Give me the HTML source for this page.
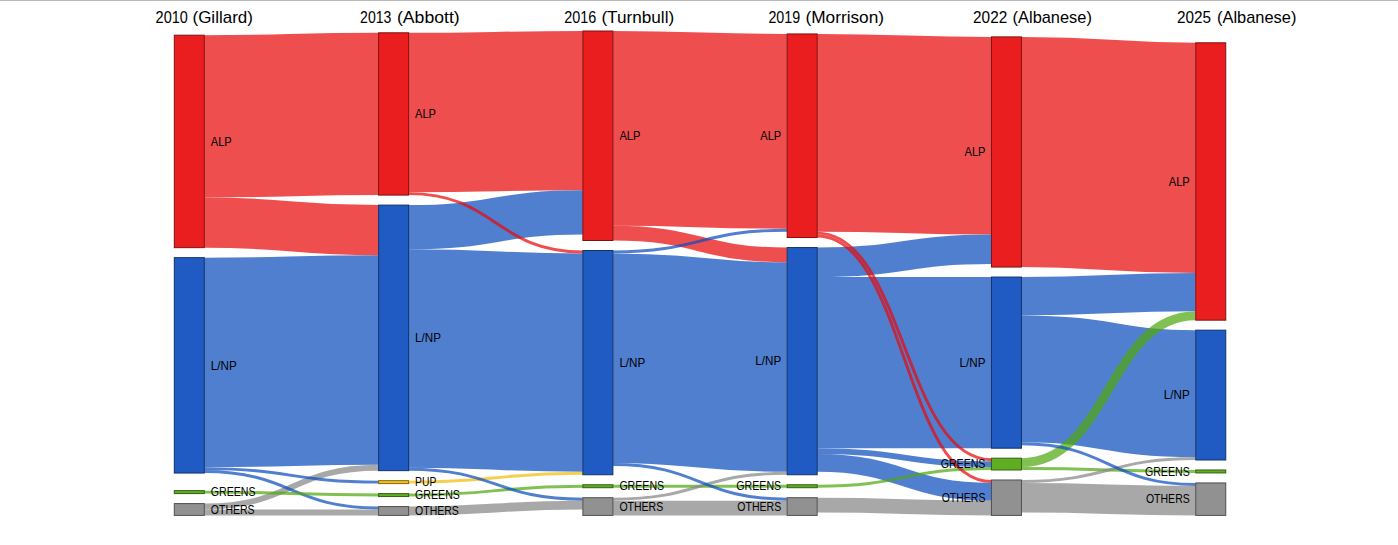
<!DOCTYPE html><html><head><meta charset="utf-8"><title>Federal election seat flows 2010-2025</title><style>
html,body{margin:0;padding:0;background:#fff;}body{width:1398px;height:545px;overflow:hidden;position:relative;}
.topline{position:absolute;left:0;top:0;width:1398px;height:1px;background:#bbbbbb;}
svg{position:absolute;left:0;top:0;display:block;}
text{font-family:"Liberation Sans",Arial,sans-serif;fill:#000;}
.t text{font-size:16.2px;} .l text{font-size:12.2px;}
</style></head><body>
<div class="topline"></div>
<svg width="1398" height="545" viewBox="0 0 1398 545">
<g fill="none" stroke-opacity="0.72">
<path d="M1021.46,151.98C1108.61,151.98,1108.61,157.88,1195.75,157.88" stroke="#e80a0a" stroke-width="230.15"/>
<path d="M408.59,358.52C495.74,358.52,495.74,362.62,582.88,362.62" stroke="#0c4dbe" stroke-width="218.35"/>
<path d="M204.3,362.39C291.45,362.39,291.45,360,378.59,360" stroke="#0c4dbe" stroke-width="209.5"/>
<path d="M612.88,358.19C700.03,358.19,700.03,367.05,787.17,367.05" stroke="#0c4dbe" stroke-width="209.5"/>
<path d="M817.17,132.8C904.32,132.8,904.32,135.75,991.46,135.75" stroke="#e80a0a" stroke-width="197.69"/>
<path d="M612.88,128.37C700.03,128.37,700.03,131.32,787.17,131.32" stroke="#e80a0a" stroke-width="194.74"/>
<path d="M817.17,362.62C904.32,362.62,904.32,362.62,991.46,362.62" stroke="#0c4dbe" stroke-width="171.14"/>
<path d="M204.3,116.34C291.45,116.34,291.45,113.95,378.59,113.95" stroke="#e80a0a" stroke-width="162.29"/>
<path d="M408.59,112.47C495.74,112.47,495.74,110.67,582.88,110.67" stroke="#e80a0a" stroke-width="159.34"/>
<path d="M1021.46,378.85C1108.61,378.85,1108.61,393.6,1195.75,393.6" stroke="#0c4dbe" stroke-width="126.88"/>
<path d="M204.3,222.57C291.45,222.57,291.45,230.17,378.59,230.17" stroke="#e80a0a" stroke-width="50.16"/>
<path d="M408.59,227.22C495.74,227.22,495.74,212.46,582.88,212.46" stroke="#0c4dbe" stroke-width="44.26"/>
<path d="M1021.46,296.23C1108.61,296.23,1108.61,292.13,1195.75,292.13" stroke="#0c4dbe" stroke-width="38.36"/>
<path d="M817.17,262.3C904.32,262.3,904.32,249.35,991.46,249.35" stroke="#0c4dbe" stroke-width="29.51"/>
<path d="M1021.46,497.7C1108.61,497.7,1108.61,500.65,1195.75,500.65" stroke="#878787" stroke-width="29.51"/>
<path d="M817.17,462.94C904.32,462.94,904.32,491.79,991.46,491.79" stroke="#0c4dbe" stroke-width="17.7"/>
<path d="M612.88,233.12C700.03,233.12,700.03,254.92,787.17,254.92" stroke="#e80a0a" stroke-width="14.75"/>
<path d="M612.88,508.02C700.03,508.02,700.03,508.02,787.17,508.02" stroke="#878787" stroke-width="14.75"/>
<path d="M817.17,505.07C904.32,505.07,904.32,508.02,991.46,508.02" stroke="#878787" stroke-width="14.75"/>
<path d="M408.59,510.97C495.74,510.97,495.74,505.07,582.88,505.07" stroke="#878787" stroke-width="8.85"/>
<path d="M1021.46,462.62C1108.61,462.62,1108.61,315.74,1195.75,315.74" stroke="#51a70f" stroke-width="8.85"/>
<path d="M204.3,506.55C291.45,506.55,291.45,467.7,378.59,467.7" stroke="#878787" stroke-width="5.9"/>
<path d="M204.3,512.45C291.45,512.45,291.45,512.45,378.59,512.45" stroke="#878787" stroke-width="5.9"/>
<path d="M817.17,451.14C904.32,451.14,904.32,464.09,991.46,464.09" stroke="#0c4dbe" stroke-width="5.9"/>
<path d="M204.3,468.62C291.45,468.62,291.45,482.12,378.59,482.12" stroke="#0c4dbe" stroke-width="2.95"/>
<path d="M408.59,193.61C495.74,193.61,495.74,251.97,582.88,251.97" stroke="#e80a0a" stroke-width="2.95"/>
<path d="M612.88,251.97C700.03,251.97,700.03,230.17,787.17,230.17" stroke="#0c4dbe" stroke-width="2.95"/>
<path d="M817.17,486.22C904.32,486.22,904.32,468.52,991.46,468.52" stroke="#51a70f" stroke-width="2.95"/>
<path d="M1021.46,468.52C1108.61,468.52,1108.61,471.47,1195.75,471.47" stroke="#51a70f" stroke-width="2.95"/>
<path d="M204.3,471.57C291.45,471.57,291.45,508.02,378.59,508.02" stroke="#0c4dbe" stroke-width="2.95"/>
<path d="M408.59,482.12C495.74,482.12,495.74,473.27,582.88,473.27" stroke="#f0be0c" stroke-width="2.95"/>
<path d="M612.88,486.22C700.03,486.22,700.03,486.22,787.17,486.22" stroke="#51a70f" stroke-width="2.95"/>
<path d="M817.17,233.12C904.32,233.12,904.32,459.66,991.46,459.66" stroke="#e80a0a" stroke-width="2.95"/>
<path d="M1021.46,481.47C1108.61,481.47,1108.61,458.52,1195.75,458.52" stroke="#878787" stroke-width="2.95"/>
<path d="M204.3,492.12C291.45,492.12,291.45,495.07,378.59,495.07" stroke="#51a70f" stroke-width="2.95"/>
<path d="M408.59,495.07C495.74,495.07,495.74,486.22,582.88,486.22" stroke="#51a70f" stroke-width="2.95"/>
<path d="M612.88,499.17C700.03,499.17,700.03,473.27,787.17,473.27" stroke="#878787" stroke-width="2.95"/>
<path d="M817.17,236.07C904.32,236.07,904.32,481.47,991.46,481.47" stroke="#e80a0a" stroke-width="2.95"/>
<path d="M1021.46,443.76C1108.61,443.76,1108.61,484.42,1195.75,484.42" stroke="#0c4dbe" stroke-width="2.95"/>
<path d="M408.59,469.17C495.74,469.17,495.74,499.17,582.88,499.17" stroke="#0c4dbe" stroke-width="2.95"/>
<path d="M612.88,464.42C700.03,464.42,700.03,499.17,787.17,499.17" stroke="#0c4dbe" stroke-width="2.95"/>
</g>
<g>
<rect x="174.3" y="35.2" width="30" height="212.45" fill="#ea1e1e" stroke="#801010"/>
<rect x="174.3" y="257.65" width="30" height="215.4" fill="#1f5bc3" stroke="#11326a"/>
<rect x="174.3" y="490.65" width="30" height="2.95" fill="#5fae22" stroke="#345f13"/>
<rect x="174.3" y="503.6" width="30" height="11.8" fill="#919191" stroke="#4f4f4f"/>
<rect x="378.59" y="32.8" width="30" height="162.29" fill="#ea1e1e" stroke="#801010"/>
<rect x="378.59" y="205.09" width="30" height="265.56" fill="#1f5bc3" stroke="#11326a"/>
<rect x="378.59" y="480.65" width="30" height="2.95" fill="#f1c31f" stroke="#836a11"/>
<rect x="378.59" y="493.6" width="30" height="2.95" fill="#5fae22" stroke="#345f13"/>
<rect x="378.59" y="506.55" width="30" height="8.85" fill="#919191" stroke="#4f4f4f"/>
<rect x="582.88" y="31" width="30" height="209.5" fill="#ea1e1e" stroke="#801010"/>
<rect x="582.88" y="250.5" width="30" height="224.25" fill="#1f5bc3" stroke="#11326a"/>
<rect x="582.88" y="484.75" width="30" height="2.95" fill="#5fae22" stroke="#345f13"/>
<rect x="582.88" y="497.7" width="30" height="17.7" fill="#919191" stroke="#4f4f4f"/>
<rect x="787.17" y="33.95" width="30" height="203.59" fill="#ea1e1e" stroke="#801010"/>
<rect x="787.17" y="247.55" width="30" height="227.2" fill="#1f5bc3" stroke="#11326a"/>
<rect x="787.17" y="484.75" width="30" height="2.95" fill="#5fae22" stroke="#345f13"/>
<rect x="787.17" y="497.7" width="30" height="17.7" fill="#919191" stroke="#4f4f4f"/>
<rect x="991.46" y="36.9" width="30" height="230.15" fill="#ea1e1e" stroke="#801010"/>
<rect x="991.46" y="277.05" width="30" height="171.14" fill="#1f5bc3" stroke="#11326a"/>
<rect x="991.46" y="458.19" width="30" height="11.8" fill="#5fae22" stroke="#345f13"/>
<rect x="991.46" y="479.99" width="30" height="35.41" fill="#919191" stroke="#4f4f4f"/>
<rect x="1195.75" y="42.8" width="30" height="277.36" fill="#ea1e1e" stroke="#801010"/>
<rect x="1195.75" y="330.16" width="30" height="129.83" fill="#1f5bc3" stroke="#11326a"/>
<rect x="1195.75" y="469.99" width="30" height="2.95" fill="#5fae22" stroke="#345f13"/>
<rect x="1195.75" y="482.94" width="30" height="32.46" fill="#919191" stroke="#4f4f4f"/>
</g>
<g class="l">
<text x="210.8" y="146" textLength="20.9" lengthAdjust="spacingAndGlyphs">ALP</text>
<text x="210.8" y="370" textLength="25.9" lengthAdjust="spacingAndGlyphs">L/NP</text>
<text x="210.8" y="496" textLength="44.8" lengthAdjust="spacingAndGlyphs">GREENS</text>
<text x="210.8" y="514" textLength="43.8" lengthAdjust="spacingAndGlyphs">OTHERS</text>
<text x="415.09" y="118" textLength="20.9" lengthAdjust="spacingAndGlyphs">ALP</text>
<text x="415.09" y="342" textLength="25.9" lengthAdjust="spacingAndGlyphs">L/NP</text>
<text x="415.09" y="486" textLength="21.2" lengthAdjust="spacingAndGlyphs">PUP</text>
<text x="415.09" y="499" textLength="44.8" lengthAdjust="spacingAndGlyphs">GREENS</text>
<text x="415.09" y="515" textLength="43.8" lengthAdjust="spacingAndGlyphs">OTHERS</text>
<text x="619.38" y="140" textLength="20.9" lengthAdjust="spacingAndGlyphs">ALP</text>
<text x="619.38" y="367" textLength="25.9" lengthAdjust="spacingAndGlyphs">L/NP</text>
<text x="619.38" y="490" textLength="44.8" lengthAdjust="spacingAndGlyphs">GREENS</text>
<text x="619.38" y="511" textLength="43.8" lengthAdjust="spacingAndGlyphs">OTHERS</text>
<text x="781.17" y="140" text-anchor="end" textLength="20.9" lengthAdjust="spacingAndGlyphs">ALP</text>
<text x="781.17" y="365" text-anchor="end" textLength="25.9" lengthAdjust="spacingAndGlyphs">L/NP</text>
<text x="781.17" y="490" text-anchor="end" textLength="44.8" lengthAdjust="spacingAndGlyphs">GREENS</text>
<text x="781.17" y="511" text-anchor="end" textLength="43.8" lengthAdjust="spacingAndGlyphs">OTHERS</text>
<text x="985.46" y="156" text-anchor="end" textLength="20.9" lengthAdjust="spacingAndGlyphs">ALP</text>
<text x="985.46" y="367" text-anchor="end" textLength="25.9" lengthAdjust="spacingAndGlyphs">L/NP</text>
<text x="985.46" y="468" text-anchor="end" textLength="44.8" lengthAdjust="spacingAndGlyphs">GREENS</text>
<text x="985.46" y="502" text-anchor="end" textLength="43.8" lengthAdjust="spacingAndGlyphs">OTHERS</text>
<text x="1189.75" y="186" text-anchor="end" textLength="20.9" lengthAdjust="spacingAndGlyphs">ALP</text>
<text x="1189.75" y="399" text-anchor="end" textLength="25.9" lengthAdjust="spacingAndGlyphs">L/NP</text>
<text x="1189.75" y="476" text-anchor="end" textLength="44.8" lengthAdjust="spacingAndGlyphs">GREENS</text>
<text x="1189.75" y="503" text-anchor="end" textLength="43.8" lengthAdjust="spacingAndGlyphs">OTHERS</text>
</g>
<g class="t">
<text y="22.7"><tspan x="155.6" textLength="32.19" lengthAdjust="spacingAndGlyphs">2010</tspan> <tspan x="192.5" textLength="60.39" lengthAdjust="spacingAndGlyphs">(Gillard)</tspan></text>
<text y="22.7"><tspan x="360.1" textLength="31.29" lengthAdjust="spacingAndGlyphs">2013</tspan> <tspan x="397.0" textLength="62.7" lengthAdjust="spacingAndGlyphs">(Abbott)</tspan></text>
<text y="22.7"><tspan x="564.2" textLength="31.99" lengthAdjust="spacingAndGlyphs">2016</tspan> <tspan x="601.4" textLength="72.8" lengthAdjust="spacingAndGlyphs">(Turnbull)</tspan></text>
<text y="22.7"><tspan x="768.4" textLength="31.79" lengthAdjust="spacingAndGlyphs">2019</tspan> <tspan x="805.4" textLength="78.7" lengthAdjust="spacingAndGlyphs">(Morrison)</tspan></text>
<text y="22.7"><tspan x="973.1" textLength="34.09" lengthAdjust="spacingAndGlyphs">2022</tspan> <tspan x="1012.6" textLength="79.3" lengthAdjust="spacingAndGlyphs">(Albanese)</tspan></text>
<text y="22.7"><tspan x="1177.1" textLength="33.99" lengthAdjust="spacingAndGlyphs">2025</tspan> <tspan x="1217.0" textLength="79.4" lengthAdjust="spacingAndGlyphs">(Albanese)</tspan></text>
</g>
</svg></body></html>
